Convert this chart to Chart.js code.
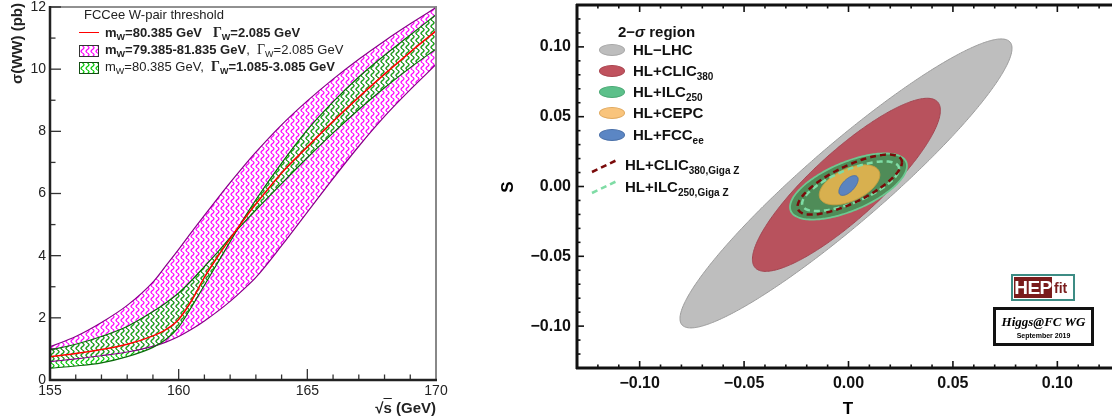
<!DOCTYPE html>
<html lang="en">
<head>
<meta charset="UTF-8">
<meta name="viewport" content="width=device-width, initial-scale=1.0">
<title>W-pair threshold and S,T fit</title>
<script src="https://cdn.jsdelivr.net/npm/chart.js"></script>
<style>
    html, body { margin: 0; padding: 0; background: #fff; }
    body {
        width: 1112px; height: 419px; overflow: hidden; position: relative;
        font-family: "Liberation Sans", Arial, sans-serif;
    }
    #wwChart { position: absolute; left: 0; top: 0; }
    #stChart { position: absolute; left: 460px; top: 0; }
    .txt { position: absolute; white-space: nowrap; line-height: 16px; }
    .ww { font-size: 13px; color: #222; }
    .ww sub { font-size: 9px; vertical-align: -3px; line-height: 0; }
    .gk { font-family: "Liberation Serif", "Times New Roman", serif; font-size: 14px; }
    .st { font-size: 15px; font-weight: bold; color: #111; line-height: 18px; }
    .st sub { font-size: 10px; vertical-align: -4px; line-height: 0; }
    .swatch { position: absolute; width: 18px; height: 10px; border: 1px solid #333; background-color: #fff; }
    .oval { position: absolute; width: 26px; height: 12px; border-radius: 50%; box-sizing: border-box; }
</style>
</head>
<body>
<canvas id="wwChart" width="450" height="419"></canvas>
<canvas id="stChart" width="680" height="419"></canvas>

<!-- left panel: legend and axis titles -->
<div class="txt ww" style="left:84px; top:7px;">FCCee W-pair threshold</div>
<div style="position:absolute; left:79px; top:32px; width:20px; border-top:1.5px solid #f00;"></div>
<div class="txt ww" style="left:105px; top:25px; font-weight:bold;">m<sub>W</sub>=80.385 GeV&nbsp;&nbsp;&nbsp;<span class="gk">Γ</span><sub>W</sub>=2.085 GeV</div>
<div class="swatch" id="swMag" style="left:79px; top:45px;"></div>
<div class="txt ww" style="left:105px; top:42px;"><b>m<sub>W</sub>=79.385-81.835 GeV</b>,&nbsp; <span class="gk">Γ</span><sub>W</sub>=2.085 GeV</div>
<div class="swatch" id="swGrn" style="left:79px; top:62px; border-color:#134d13;"></div>
<div class="txt ww" style="left:105px; top:59px;">m<sub>W</sub>=80.385 GeV,&nbsp; <b><span class="gk">Γ</span><sub>W</sub>=1.085-3.085 GeV</b></div>

<div class="txt" style="left:-33px; top:44px; width:100px; height:18px; line-height:18px; text-align:right; font-size:15px; font-weight:bold; color:#222; transform:rotate(-90deg);">σ(WW) (pb)</div>
<div class="txt" style="left:336px; top:399px; width:100px; line-height:18px; text-align:right; font-size:15px; font-weight:bold; color:#222;">√<span style="text-decoration:overline;">s</span> (GeV)</div>

<!-- right panel: legend, axis titles, logos -->
<div class="txt st" style="left:618px; top:23px;">2−<i>σ</i> region</div>
<div class="oval" style="left:599px; top:44px; background:#bdbdbd; border:1px solid #a8a8a8;"></div>
<div class="txt st" style="left:633px; top:41px;">HL−LHC</div>
<div class="oval" style="left:599px; top:65px; background:#c0525e; border:1px solid #a9444f;"></div>
<div class="txt st" style="left:633px; top:62px;">HL+CLIC<sub>380</sub></div>
<div class="oval" style="left:599px; top:86px; background:#5cc08a; border:1px solid #4aa874;"></div>
<div class="txt st" style="left:633px; top:83px;">HL+ILC<sub>250</sub></div>
<div class="oval" style="left:599px; top:107px; background:#f9c47c; border:1px solid #e0aa60;"></div>
<div class="txt st" style="left:633px; top:104px;">HL+CEPC</div>
<div class="oval" style="left:599px; top:129px; background:#5b86c4; border:1px solid #4a70a8;"></div>
<div class="txt st" style="left:633px; top:126px;">HL+FCC<sub>ee</sub></div>

<svg style="position:absolute; left:588px; top:155px;" width="34" height="45">
    <line x1="4" y1="17" x2="29" y2="5" stroke="#7a0a0a" stroke-width="2.5" stroke-dasharray="6,4"/>
    <line x1="4" y1="38" x2="29" y2="26" stroke="#7fdca5" stroke-width="2.5" stroke-dasharray="6,4"/>
</svg>
<div class="txt st" style="left:625px; top:156px;">HL+CLIC<sub>380,Giga Z</sub></div>
<div class="txt st" style="left:625px; top:178px;">HL+ILC<sub>250,Giga Z</sub></div>

<div class="txt" style="left:458px; top:178px; width:100px; line-height:18px; text-align:center; font-size:17px; font-weight:bold; transform:rotate(-90deg);">S</div>
<div class="txt" style="left:798px; top:400px; width:100px; line-height:18px; text-align:center; font-size:17px; font-weight:bold;">T</div>

<div style="position:absolute; left:1011px; top:274px; width:60px; height:23px; border:2px solid #3d8c84; background:#fff;">
    <div style="position:absolute; left:1px; top:1px; width:38px; height:21px; background:#7a1c1c; color:#fff; font-weight:bold; font-size:19px; line-height:21px; text-align:center; letter-spacing:-0.5px;">HEP</div>
    <div style="position:absolute; left:41px; top:4px; color:#7a1c1c; font-weight:bold; font-size:14px; line-height:17px;">fit</div>
</div>
<div style="position:absolute; left:993px; top:307px; width:95px; height:33px; border:3px solid #111; background:#fff; text-align:center;">
    <div style="font-family:'Liberation Serif','Times New Roman',serif; font-style:italic; font-weight:bold; font-size:13px; line-height:15px; margin-top:4px;">Higgs@FC WG</div>
    <div style="font-weight:bold; font-size:7px; line-height:10px; margin-top:2px;">September 2019</div>
</div>

<script>
    // ---------- left panel: sigma(WW) near threshold ----------
    const sqrtS = [155, 156, 157, 158, 159, 159.5, 160, 160.5, 161, 161.5, 162, 162.5, 163, 164, 165, 166, 167, 168, 169, 170];
    const xsNominal = [0.75, 0.85, 0.98, 1.15, 1.42, 1.62, 1.95, 2.55, 3.3, 3.95, 4.55, 5.12, 5.66, 6.66, 7.5, 8.32, 9.1, 9.84, 10.55, 11.23];
    const xsMassLow = [1.07, 1.4, 1.85, 2.4, 3.15, 3.67, 4.2, 4.76, 5.3, 5.83, 6.35, 6.85, 7.33, 8.21, 8.98, 9.68, 10.32, 10.91, 11.46, 11.98];
    const xsMassHigh = [0.59, 0.68, 0.78, 0.9, 1.08, 1.22, 1.4, 1.63, 1.9, 2.2, 2.53, 2.9, 3.3, 4.32, 5.4, 6.48, 7.52, 8.48, 9.34, 10.15];
    const xsWideGamma = [0.965, 1.15, 1.4, 1.72, 2.2, 2.48, 2.8, 3.2, 3.65, 4.1, 4.58, 5.03, 5.47, 6.32, 7.15, 7.95, 8.7, 9.4, 10.05, 10.65];
    const xsNarrowGamma = [0.38, 0.45, 0.55, 0.75, 1.05, 1.3, 1.7, 2.35, 3.05, 3.75, 4.45, 5.15, 5.8, 6.98, 8.05, 8.95, 9.75, 10.45, 11.1, 11.75];

    // ---------- right panel: 2-sigma regions in the S,T plane ----------
    // centre, largest reach along T and along S, and T-S correlation of each region
    const regionNames = ['HL−LHC', 'HL+CLIC380', 'HL+ILC250', 'HL+CEPC', 'HL+FCCee'];
    const regionCenterT = [-0.0012, -0.001, 0.0, 0.0005, 0.0];
    const regionCenterS = [0.0022, 0.0012, 0.0, 0.0012, 0.0007];
    const regionReachT = [0.0795, 0.045, 0.028, 0.0145, 0.0046];
    const regionReachS = [0.1035, 0.062, 0.0237, 0.0143, 0.0071];
    const regionCorr = [0.935, 0.86, 0.62, 0.5, 0.62];
    const regionFill = ['#bebebe', '#b8525d', '#4f8c58', '#d8b04f', '#5b84c0'];
    const regionEdge = ['#9c9c9c', '#a34652', '#6cc890', '#c9a040', '#4a70a8'];

    const gigaNames = ['HL+CLIC380,Giga Z', 'HL+ILC250,Giga Z'];
    const gigaCenterT = [0.0006, 0.001];
    const gigaCenterS = [0.0014, 0.0002];
    const gigaReachT = [0.025, 0.0232];
    const gigaReachS = [0.0215, 0.0178];
    const gigaCorr = [0.74, 0.7];
    const gigaColor = ['#7a0a0a', '#7fdca5'];

    // wavy hatch like the ROOT fill style
    function squiggleTile(color) {
        const c = document.createElement('canvas');
        c.width = 5; c.height = 7;
        const g = c.getContext('2d');
        g.strokeStyle = color;
        g.lineWidth = 1.2;
        g.beginPath();
        for (let i = 0; i <= 14; i++) {
            const yy = i * 0.5;
            const xx = 2.5 + 1.5 * Math.sin(yy / 7 * 2 * Math.PI);
            if (i === 0) g.moveTo(xx, yy); else g.lineTo(xx, yy);
        }
        g.stroke();
        return c;
    }
    const magTile = squiggleTile('#ff00ff');
    const grnTile = squiggleTile('#00c800');
    const patCtx = document.getElementById('wwChart').getContext('2d');
    const magPattern = patCtx.createPattern(magTile, 'repeat');
    const grnPattern = patCtx.createPattern(grnTile, 'repeat');
    document.getElementById('swMag').style.backgroundImage = 'url(' + magTile.toDataURL() + ')';
    document.getElementById('swGrn').style.backgroundImage = 'url(' + grnTile.toDataURL() + ')';

    // inward ticks + frame, drawn through the chart scales
    const frameTicks = {
        id: 'frameTicks',
        afterDatasetsDraw(chart, args, o) {
            const { ctx, chartArea: a, scales: { x, y } } = chart;
            const seg = (x1, y1, x2, y2) => { ctx.beginPath(); ctx.moveTo(x1, y1); ctx.lineTo(x2, y2); ctx.stroke(); };
            ctx.save();
            ctx.strokeStyle = o.tickColor;
            ctx.lineWidth = o.tickWidth;
            const nx = Math.round((o.xTo - o.xFrom) / o.xStep);
            for (let i = 0; i <= nx; i++) {
                const v = o.xFrom + i * o.xStep;
                const px = x.getPixelForValue(v);
                const len = Math.abs(v / o.xMajor - Math.round(v / o.xMajor)) < 1e-6 ? o.major : o.minor;
                if (o.xSides.includes('bottom')) seg(px, a.bottom, px, a.bottom - len);
                if (o.xSides.includes('top')) seg(px, a.top, px, a.top + len);
            }
            const ny = Math.round((o.yTo - o.yFrom) / o.yStep);
            for (let i = 0; i <= ny; i++) {
                const v = o.yFrom + i * o.yStep;
                const py = y.getPixelForValue(v);
                const len = Math.abs(v / o.yMajor - Math.round(v / o.yMajor)) < 1e-6 ? o.major : o.minor;
                if (o.ySides.includes('left')) seg(a.left, py, a.left + len, py);
                if (o.ySides.includes('right')) seg(a.right, py, a.right - len, py);
            }
            o.frame.forEach(f => {
                ctx.strokeStyle = f.color;
                ctx.lineWidth = f.width;
                if (f.side === 'left') seg(a.left, a.top - 1, a.left, a.bottom + 1);
                if (f.side === 'right') seg(a.right, a.top - 1, a.right, a.bottom + 1);
                if (f.side === 'top') seg(a.left - 1, a.top, a.right + 1, a.top);
                if (f.side === 'bottom') seg(a.left - 1, a.bottom, a.right + 1, a.bottom);
            });
            ctx.restore();
        }
    };

    // fixed axis sizes, and no extra room reserved for the end labels
    const fixX = h => s => { s.height = h; s.paddingLeft = 0; s.paddingRight = 0; };
    const fixY = w => s => { s.width = w; s.paddingTop = 0; s.paddingBottom = 0; };

    const pts = ys => sqrtS.map((s, i) => ({ x: s, y: ys[i] }));

    new Chart(document.getElementById('wwChart'), {
        type: 'line',
        data: {
            datasets: [
                { data: pts(xsNominal), borderColor: '#ff0000', borderWidth: 1.5, fill: false },
                { data: pts(xsWideGamma), borderColor: '#0b6b0b', borderWidth: 1.2, fill: '+1', backgroundColor: grnPattern },
                { data: pts(xsNarrowGamma), borderColor: '#0b6b0b', borderWidth: 1.2, fill: false },
                { data: pts(xsMassLow), borderColor: '#880088', borderWidth: 1.2, fill: '+1', backgroundColor: magPattern },
                { data: pts(xsMassHigh), borderColor: '#880088', borderWidth: 1.2, fill: false }
            ]
        },
        options: {
            responsive: false,
            animation: false,
            devicePixelRatio: 1,
            elements: { point: { radius: 0 }, line: { cubicInterpolationMode: 'monotone' } },
            layout: { padding: { top: 7, right: 14, left: 0, bottom: 0 } },
            scales: {
                x: {
                    type: 'linear', min: 155, max: 170,
                    grid: { display: false, drawTicks: false }, border: { display: false },
                    ticks: { stepSize: 5, autoSkip: false, maxRotation: 0, padding: 3, color: '#222',
                             font: { family: 'Liberation Sans', size: 14 } },
                    afterFit: fixX(39)
                },
                y: {
                    min: 0, max: 12,
                    grid: { display: false, drawTicks: false }, border: { display: false },
                    ticks: { stepSize: 2, padding: 4, color: '#222',
                             font: { family: 'Liberation Sans', size: 14 } },
                    afterFit: fixY(50)
                }
            },
            plugins: {
                legend: { display: false },
                tooltip: { enabled: false },
                filler: { drawTime: 'beforeDatasetsDraw' },
                frameTicks: {
                    tickColor: '#333', tickWidth: 1.3, major: 11, minor: 5.5,
                    xFrom: 155, xTo: 170, xStep: 1, xMajor: 5, xSides: ['bottom'],
                    yFrom: 0, yTo: 12, yStep: 1, yMajor: 2, ySides: ['left'],
                    frame: [
                        { side: 'top', color: '#222', width: 1 },
                        { side: 'right', color: '#888', width: 2 },
                        { side: 'left', color: '#222', width: 2.5 },
                        { side: 'bottom', color: '#222', width: 2.5 }
                    ]
                }
            }
        },
        plugins: [frameTicks]
    });

    // closed contour of a correlated 2-sigma region
    function contour(cT, cS, aT, aS, rho) {
        const out = [];
        const n = 120;
        const k = Math.sqrt(1 - rho * rho);
        for (let i = 0; i <= n; i++) {
            const t = i / n * 2 * Math.PI;
            out.push({ x: cT + aT * Math.cos(t), y: cS + aS * (rho * Math.cos(t) + k * Math.sin(t)) });
        }
        return out;
    }

    // first dataset is drawn on top: dashed Giga Z lines, then the regions from smallest to largest
    const stSets = [];
    gigaNames.forEach((name, i) => {
        stSets.push({
            label: name,
            data: contour(gigaCenterT[i], gigaCenterS[i], gigaReachT[i], gigaReachS[i], gigaCorr[i]),
            borderColor: gigaColor[i], borderWidth: 2.5, borderDash: [6, 4], fill: false, tension: 0.2
        });
    });
    for (let i = regionNames.length - 1; i >= 0; i--) {
        stSets.push({
            label: regionNames[i],
            data: contour(regionCenterT[i], regionCenterS[i], regionReachT[i], regionReachS[i], regionCorr[i]),
            borderColor: regionEdge[i], borderWidth: i === 2 ? 1.8 : 1, backgroundColor: regionFill[i],
            fill: 'shape', tension: 0.2
        });
    }

    const fmt = v => Math.abs(v) < 1e-9 ? '0.00' : v.toFixed(2).replace('-', '−');

    new Chart(document.getElementById('stChart'), {
        type: 'line',
        data: { datasets: stSets },
        options: {
            responsive: false,
            animation: false,
            devicePixelRatio: 1,
            elements: { point: { radius: 0 } },
            layout: { padding: { top: 5, right: 20, left: 0, bottom: 0 } },
            scales: {
                x: {
                    type: 'linear', min: -0.13, max: 0.13,
                    grid: { display: false, drawTicks: false }, border: { display: false },
                    ticks: { stepSize: 0.05, includeBounds: false, autoSkip: false, maxRotation: 0, padding: 6,
                             color: '#111', callback: fmt,
                             font: { family: 'Liberation Sans', size: 16, weight: 'bold' } },
                    afterFit: fixX(51)
                },
                y: {
                    min: -0.13, max: 0.13,
                    grid: { display: false, drawTicks: false }, border: { display: false },
                    ticks: { stepSize: 0.05, includeBounds: false, padding: 6, color: '#111', callback: fmt,
                             font: { family: 'Liberation Sans', size: 16, weight: 'bold' } },
                    afterFit: fixY(117)
                }
            },
            plugins: {
                legend: { display: false },
                tooltip: { enabled: false },
                frameTicks: {
                    tickColor: '#111', tickWidth: 1.6, major: 7, minor: 3.5,
                    xFrom: -0.13, xTo: 0.13, xStep: 0.01, xMajor: 0.05, xSides: ['bottom', 'top'],
                    yFrom: -0.13, yTo: 0.13, yStep: 0.01, yMajor: 0.05, ySides: ['left', 'right'],
                    frame: [
                        { side: 'left', color: '#111', width: 3 },
                        { side: 'right', color: '#111', width: 3 },
                        { side: 'top', color: '#111', width: 3 },
                        { side: 'bottom', color: '#111', width: 3 }
                    ]
                }
            }
        },
        plugins: [frameTicks]
    });
</script>
</body>
</html>
